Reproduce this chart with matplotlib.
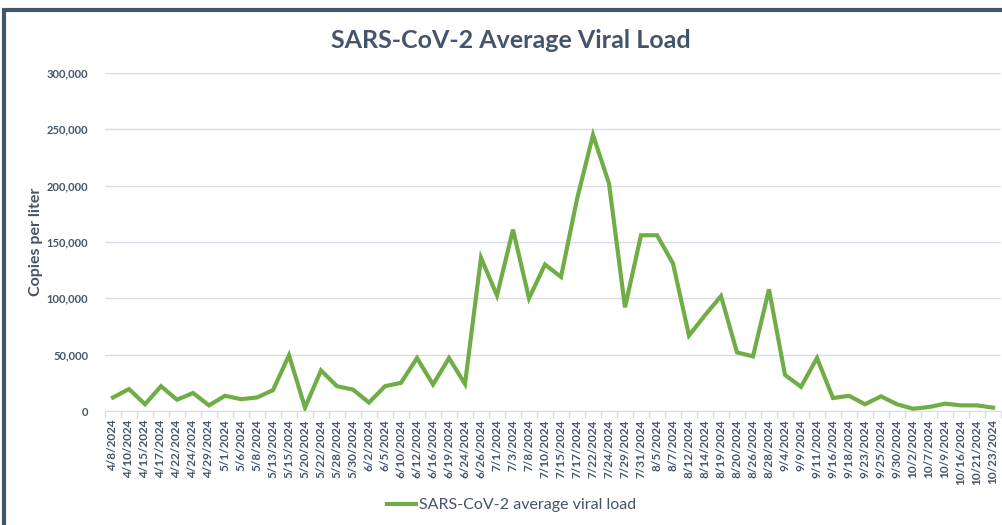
import matplotlib.pyplot as plt
from matplotlib.ticker import FuncFormatter, FixedLocator
from matplotlib.patches import Rectangle
from matplotlib.lines import Line2D

plt.rcParams['font.family'] = ['Lato', 'DejaVu Sans']

dates = ['4/8/2024', '4/10/2024', '4/15/2024', '4/17/2024', '4/22/2024', '4/24/2024',
         '4/29/2024', '5/1/2024', '5/6/2024', '5/8/2024', '5/13/2024', '5/15/2024',
         '5/20/2024', '5/22/2024', '5/28/2024', '5/30/2024', '6/2/2024', '6/5/2024',
         '6/10/2024', '6/12/2024', '6/16/2024', '6/19/2024', '6/24/2024', '6/26/2024',
         '7/1/2024', '7/3/2024', '7/8/2024', '7/10/2024', '7/15/2024', '7/17/2024',
         '7/22/2024', '7/24/2024', '7/29/2024', '7/31/2024', '8/5/2024', '8/7/2024',
         '8/12/2024', '8/14/2024', '8/19/2024', '8/20/2024', '8/26/2024', '8/28/2024',
         '9/4/2024', '9/9/2024', '9/11/2024', '9/16/2024', '9/18/2024', '9/23/2024',
         '9/25/2024', '9/30/2024', '10/2/2024', '10/7/2024', '10/9/2024', '10/16/2024',
         '10/21/2024', '10/23/2024']

viral_load = [12000, 19500, 6000, 22000, 10000, 16000,
              5000, 13500, 10500, 12000, 18500, 49500,
              3000, 36000, 22000, 19000, 7500, 22000,
              25000, 47000, 23500, 47000, 24000, 136000,
              102500, 161000, 100000, 130000, 119000, 188000,
              245000, 202000, 92000, 156000, 156000, 131000,
              67000, 85000, 102000, 52000, 48500, 108000,
              32000, 21500, 47000, 11500, 13500, 6000,
              13000, 6000, 2000, 3500, 6500, 5000,
              5000, 3000]

text_color = '#44546A'
green = '#70AD47'
grid_color = '#D9DCE6'

fig = plt.figure(figsize=(10.03, 5.25), dpi=100)

# dark frame around the chart (only top and left visible in the crop)
fig.patches.append(Rectangle((4 / 1003, -0.1), 1.2, (525 - 10) / 525 + 0.1,
                             transform=fig.transFigure, fill=False,
                             edgecolor=text_color, linewidth=3))

ax = fig.add_axes([105 / 1003, 1 - 411 / 525, (1001 - 105) / 1003, (411 - 73) / 525])

x = list(range(len(dates)))
ax.plot(x, viral_load, color=green, linewidth=3, solid_joinstyle='miter')

ax.set_xlim(-0.5, len(dates) - 0.5)
ax.set_ylim(0, 300000)
ax.set_yticks(range(0, 300001, 50000))
ax.yaxis.set_major_formatter(FuncFormatter(lambda v, p: f'{int(v):,}'))
ax.grid(axis='y', color=grid_color, linewidth=1)
ax.set_axisbelow(True)

ax.set_xticks(x)
ax.set_xticklabels(dates, rotation=90, fontsize=8.5, color=text_color, fontweight='bold')
ax.xaxis.set_minor_locator(FixedLocator([i - 0.5 for i in range(len(dates) + 1)]))
ax.tick_params(axis='x', which='major', length=0, pad=6)
ax.tick_params(axis='x', which='minor', length=5, color=grid_color, width=1)
ax.tick_params(axis='y', length=0, labelsize=8, labelcolor=text_color, pad=12)
for lbl in ax.get_yticklabels():
    lbl.set_fontweight('bold')

for side in ['top', 'right', 'left']:
    ax.spines[side].set_visible(False)
ax.spines['bottom'].set_color(grid_color)

ax.set_ylabel('Copies per liter', fontsize=11.5, color=text_color, fontweight='bold', labelpad=3)

fig.text(511 / 1003, 1 - 40 / 525, 'SARS-CoV-2 Average Viral Load', ha='center', va='center',
         fontsize=18, fontweight='bold', color=text_color)

handle = Line2D([], [], color=green, linewidth=3)
fig.legend([handle], ['SARS-CoV-2 average viral load'], loc='center',
           bbox_to_anchor=(512 / 1003, 1 - 505 / 525), frameon=False,
           fontsize=11.5, labelcolor=text_color, handlelength=1.8, handletextpad=0.2)

fig.savefig('out.png', dpi=100)
